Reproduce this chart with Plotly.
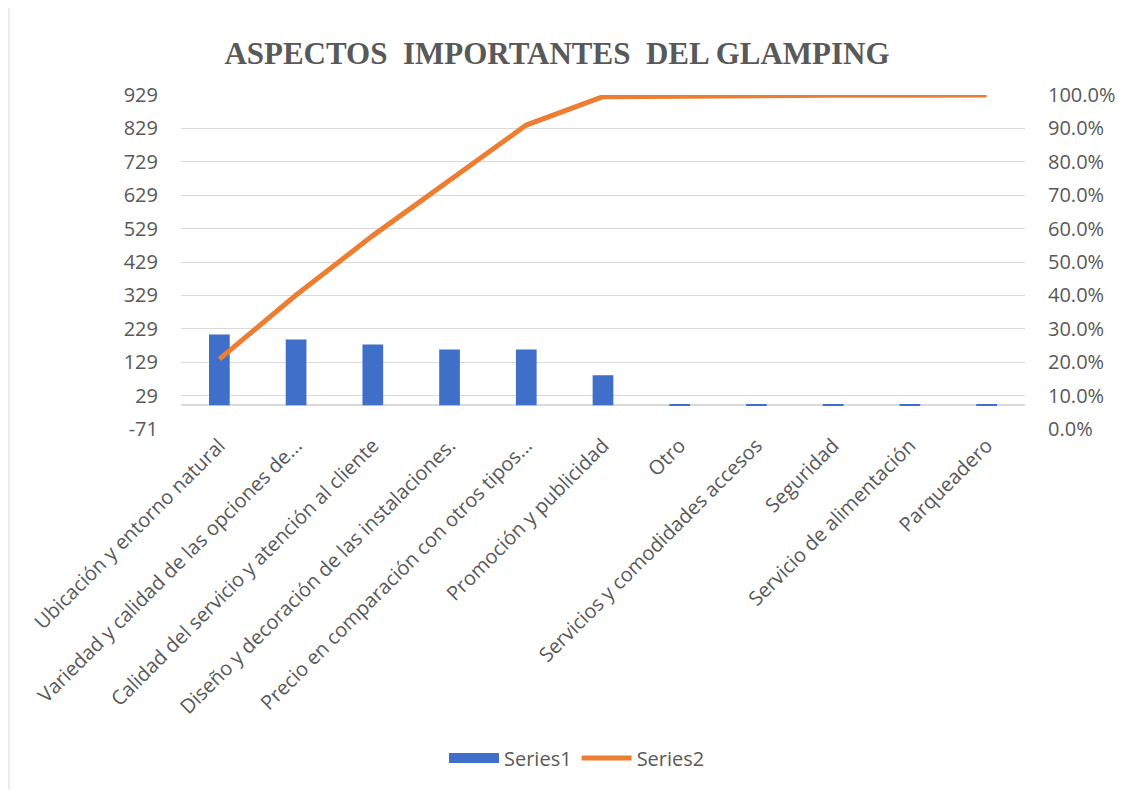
import plotly.graph_objects as go

categories = [
    "Ubicación y entorno natural",
    "Variedad y calidad de las opciones de...",
    "Calidad del servicio y atención al cliente",
    "Diseño y decoración de las instalaciones.",
    "Precio en comparación con otros tipos...",
    "Promoción y publicidad",
    "Otro",
    "Servicios y comodidades accesos",
    "Seguridad",
    "Servicio de alimentación",
    "Parqueadero",
]
series1 = [212, 197, 182, 167, 167, 90, 3, 3, 3, 3, 3]
series2_pct = [0.209, 0.401, 0.579, 0.743, 0.910, 0.995, 0.997, 0.998, 0.999, 0.999, 1.000]
left_ticks = [-71, 29, 129, 229, 329, 429, 529, 629, 729, 829, 929]
left_ticktext = ["-71", "29", "129", "229", "329", "429", "529", "629", "729", "829", "929"]
right_ticks = [0.0, 0.1, 0.2, 0.3, 0.4, 0.5, 0.6, 0.7, 0.8, 0.9, 1.0]

OFF = 8  # page body margin
W, H = 1136 - OFF, 798 - 2 * OFF
L, R, T, B = 181 - OFF, 1025 - OFF, 95 - OFF, 431 - OFF

BLUE = "#3f6fc8"
ORANGE = "#ED7D31"

fig = go.Figure()
fig.add_trace(go.Bar(
    x=categories, y=series1, name="Series1",
    marker=dict(color=BLUE, line=dict(width=0)),
    width=0.27, yaxis="y", showlegend=False,
))
fig.add_trace(go.Scatter(
    x=[None], y=[None], name="Series1", mode="lines",
    line=dict(color=BLUE, width=14), yaxis="y", showlegend=True,
))
fig.add_trace(go.Scatter(
    x=categories, y=series2_pct, name="Series2", mode="lines",
    line=dict(color=ORANGE, width=5), yaxis="y2",
))

def px_x(x):
    return (x - OFF - L) / (R - L)

def px_y(y):
    return (B - (y - OFF)) / (B - T)

fig.update_layout(
    width=W, height=H,
    margin=dict(l=L, r=W - R, t=T, b=H - B),
    paper_bgcolor="white", plot_bgcolor="white",
    font=dict(family="Open Sans", color="#595959"),
    title=dict(
        text="<b>ASPECTOS\u00a0 IMPORTANTES\u00a0 DEL GLAMPING</b>",
        font=dict(family="Liberation Serif", size=31, color="#595959"),
        x=px_x(557), xref="paper", xanchor="center",
        y=1 - (53 - OFF) / H, yref="container", yanchor="middle",
    ),
    xaxis=dict(
        tickangle=-45, tickfont=dict(size=20, color="#595959"),
        showgrid=False, showline=False, ticks="",
    ),
    yaxis=dict(
        range=[-71, 929], tickvals=left_ticks, ticktext=left_ticktext,
        tickfont=dict(size=20, color="#595959"),
        showgrid=True, gridcolor="#d9d9d9", gridwidth=1.3,
        zeroline=True, zerolinecolor="#d9d9d9", zerolinewidth=1.5,
        ticks="", ticklabelstandoff=22,
    ),
    yaxis2=dict(
        range=[0, 1], tickvals=right_ticks, tickformat=".1%",
        overlaying="y", side="right", showgrid=False, zeroline=False,
        tickfont=dict(size=20, color="#595959"),
        ticks="", ticklabelstandoff=22,
    ),
    legend=dict(
        orientation="h", x=px_x(577), xanchor="center",
        y=px_y(762), yanchor="middle",
        font=dict(size=20, color="#595959"),
        itemwidth=50,
    ),
    showlegend=True,
    shapes=[dict(
        type="rect", xref="paper", yref="paper",
        x0=px_x(9), x1=(W - 1 - L) / (R - L), y0=px_y(805), y1=px_y(6),
        line=dict(color="#d9d9d9", width=1), fillcolor="rgba(0,0,0,0)",
        layer="below",
    )],
)

fig.write_html("out.html")
